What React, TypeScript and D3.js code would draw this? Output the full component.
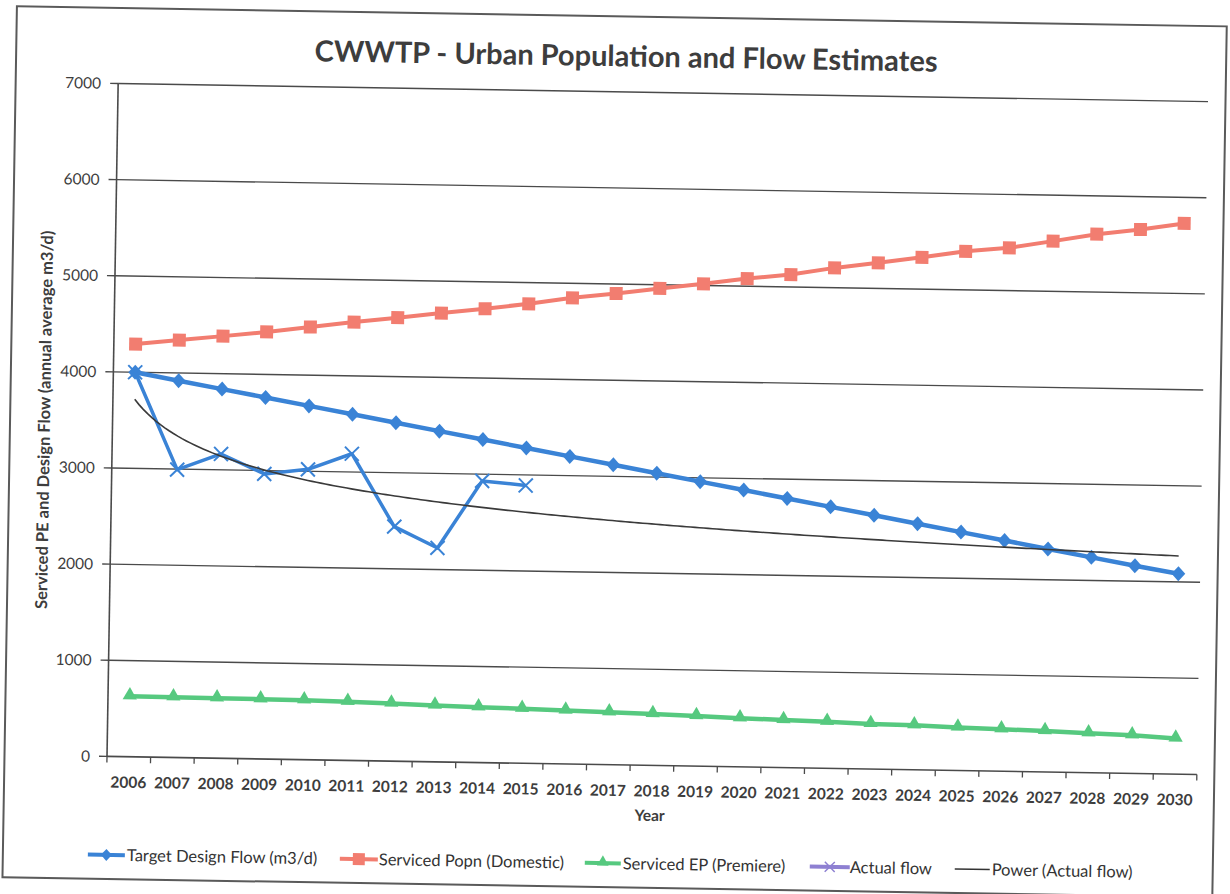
import React from 'react';
import * as d3 from 'd3';

// Years on the category axis
const YEARS = [
  '2006', '2007', '2008', '2009', '2010', '2011', '2012', '2013', '2014', '2015',
  '2016', '2017', '2018', '2019', '2020', '2021', '2022', '2023', '2024', '2025',
  '2026', '2027', '2028', '2029', '2030',
];

// Target design flow (m3/d)
const TARGET_FLOW = [
  4000, 3920, 3840, 3760, 3680, 3600, 3520, 3440, 3360, 3280,
  3200, 3120, 3040, 2960, 2880, 2800, 2720, 2640, 2560, 2480,
  2400, 2320, 2240, 2160, 2085,
];

// Serviced population (domestic)
const SERVICED_POPN = [
  4293, 4342, 4391, 4442, 4501, 4560, 4613, 4668, 4721, 4780,
  4850, 4902, 4962, 5018, 5080, 5129, 5206, 5266, 5331, 5401,
  5445, 5522, 5602, 5658, 5729,
];

// Serviced EP (premiere)
const SERVICED_EP = [
  630, 627, 624, 622, 618, 610, 600, 586, 576, 567,
  557, 545, 535, 521, 506, 496, 485, 470, 463, 448,
  437, 426, 410, 398, 370,
];

// Measured flow, 2006-2015
const ACTUAL_FLOW = [4000, 2995, 3165, 2965, 3020, 3190, 2440, 2225, 2930, 2890];

const Y_TICKS = [0, 1000, 2000, 3000, 4000, 5000, 6000, 7000];

const TITLE = 'CWWTP - Urban Population and Flow Estimates';
const Y_TITLE = 'Serviced PE and Design Flow (annual average m3/d)';
const X_TITLE = 'Year';
const LEGEND_LABELS = [
  'Target Design Flow (m3/d)',
  'Serviced Popn (Domestic)',
  'Serviced EP (Premiere)',
  'Actual flow',
  'Power (Actual flow)',
];

const W = 1230;
const H = 894;
const M = { left: 112.5, right: 1202.5, top: 92.5, bottom: 765.5 };
const FONT = "Lato, 'Open Sans', 'Liberation Sans', sans-serif";

const BLUE = '#3a83d6';
const RED = '#f27d70';
const GREEN = '#56c97f';
const PURPLE = '#8e80d2';
const GRID = '#4a4a4a';
const TEXT = '#3d3d3d';

// Power trendline y = a * x^b fitted by least squares on ln(x), ln(y)
function powerFit(values: number[]) {
  const lx = values.map((_, i) => Math.log(i + 1));
  const ly = values.map((v) => Math.log(v));
  const mx = d3.mean(lx) as number;
  const my = d3.mean(ly) as number;
  let sxy = 0;
  let sxx = 0;
  lx.forEach((x, i) => {
    sxy += (x - mx) * (ly[i] - my);
    sxx += (x - mx) * (x - mx);
  });
  const b = sxy / sxx;
  const a = Math.exp(my - b * mx);
  return (x: number) => a * Math.pow(x, b);
}

function diamondPath(r: number) {
  return `M0,${-r}L${r * 0.92},0L0,${r}L${-r * 0.92},0Z`;
}

function xMarkPath(r: number) {
  return `M${-r},${-r}L${r},${r}M${-r},${r}L${r},${-r}`;
}

export default function App() {
  const x = d3.scaleBand<string>().domain(YEARS).range([M.left, M.right]).paddingInner(0).paddingOuter(0);
  const y = d3.scaleLinear().domain([0, 7000]).range([M.bottom, M.top]);
  const cx = (i: number) => (x(YEARS[i]) as number) + x.bandwidth() / 2;

  const line = d3
    .line<number>()
    .x((_, i) => cx(i))
    .y((v) => y(v));

  const trend = powerFit(ACTUAL_FLOW);
  const trendX = d3.scaleLinear().domain([1, YEARS.length]).range([cx(0), cx(YEARS.length - 1)]);
  const trendPts = d3.range(1, YEARS.length + 0.001, 0.1).map((t) => [trendX(t), y(trend(t))] as [number, number]);
  const trendPath = d3.line()(trendPts) as string;

  const triangle = d3.symbol(d3.symbolTriangle, 88)() as string;
  const triangleSmall = d3.symbol(d3.symbolTriangle, 60)() as string;

  const boundaries = d3.range(YEARS.length + 1).map((i) => M.left + i * x.bandwidth());

  const legendY = 864;
  const legendItems = [
    { x0: 95, x1: 132, tx: 134, color: BLUE, marker: 'diamond' },
    { x0: 347, x1: 385, tx: 386, color: RED, marker: 'square' },
    { x0: 592, x1: 628, tx: 630, color: GREEN, marker: 'triangle' },
    { x0: 817, x1: 857, tx: 857, color: PURPLE, marker: 'x' },
    { x0: 962, x1: 997, tx: 999, color: '#333333', marker: 'none' },
  ];

  return (
    <svg
      width={W}
      height={H}
      viewBox={`0 0 ${W} ${H}`}
      style={{ position: 'absolute', left: 0, top: 0, display: 'block', background: '#ffffff' }}
    >
      <rect x={0} y={0} width={W} height={H} fill="#ffffff" />
      <g transform="rotate(0.95 657.5 429)">
        {/* chart frame */}
        <rect x={10} y={17} width={1210} height={871} fill="#ffffff" stroke="#5a5a5a" strokeWidth={2} />

        {/* title */}
        <text
          x={620}
          y={67}
          textAnchor="middle"
          fontFamily={FONT}
          fontWeight={700}
          fontSize={29}
          fill={TEXT}
        >
          {TITLE}
        </text>

        {/* horizontal gridlines */}
        {Y_TICKS.filter((t) => t > 0).map((t) => (
          <line key={`g${t}`} x1={M.left} x2={M.right} y1={y(t)} y2={y(t)} stroke={GRID} strokeWidth={1.4} />
        ))}

        {/* y axis */}
        <line x1={M.left} x2={M.left} y1={M.top} y2={M.bottom} stroke={GRID} strokeWidth={1.6} />
        {Y_TICKS.map((t) => (
          <g key={`yt${t}`}>
            <line x1={M.left - 8} x2={M.left} y1={y(t)} y2={y(t)} stroke={GRID} strokeWidth={1.4} />
            <text
              x={95.5}
              y={y(t)}
              dy="0.35em"
              textAnchor="end"
              fontFamily={FONT}
              fontSize={15.5}
              fill={TEXT}
            >
              {t}
            </text>
          </g>
        ))}

        {/* x axis */}
        <line x1={M.left} x2={M.right} y1={M.bottom} y2={M.bottom} stroke={GRID} strokeWidth={1.6} />
        {boundaries.map((bx, i) => (
          <line key={`xt${i}`} x1={bx} x2={bx} y1={M.bottom} y2={M.bottom + 6} stroke={GRID} strokeWidth={1.3} />
        ))}
        {YEARS.map((yr, i) => (
          <text
            key={`xl${yr}`}
            x={cx(i)}
            y={M.bottom + 31}
            textAnchor="middle"
            fontFamily={FONT}
            fontWeight={700}
            fontSize={15.5}
            fill={TEXT}
          >
            {yr}
          </text>
        ))}

        {/* axis titles */}
        <text
          x={656}
          y={821}
          textAnchor="middle"
          fontFamily={FONT}
          fontWeight={700}
          fontSize={15.5}
          fill={TEXT}
        >
          {X_TITLE}
        </text>
        <text
          transform="translate(50 430) rotate(-90)"
          textAnchor="middle"
          fontFamily={FONT}
          fontWeight={700}
          fontSize={16.5}
          fill={TEXT}
        >
          {Y_TITLE}
        </text>

        {/* Serviced EP */}
        <path d={line(SERVICED_EP) as string} fill="none" stroke={GREEN} strokeWidth={4.5} strokeLinejoin="round" />
        {SERVICED_EP.map((v, i) => (
          <path key={`ep${i}`} d={triangle} transform={`translate(${cx(i)},${y(v) - 1})`} fill={GREEN} />
        ))}

        {/* Serviced population */}
        <path d={line(SERVICED_POPN) as string} fill="none" stroke={RED} strokeWidth={4} strokeLinejoin="round" />
        {SERVICED_POPN.map((v, i) => (
          <rect key={`pp${i}`} x={cx(i) - 6.5} y={y(v) - 6.5} width={13} height={13} fill={RED} />
        ))}

        {/* Target design flow */}
        <path d={line(TARGET_FLOW) as string} fill="none" stroke={BLUE} strokeWidth={4.5} strokeLinejoin="round" />
        {TARGET_FLOW.map((v, i) => (
          <path key={`tf${i}`} d={diamondPath(7.5)} transform={`translate(${cx(i)},${y(v)})`} fill={BLUE} />
        ))}

        {/* Actual flow */}
        <path d={line(ACTUAL_FLOW) as string} fill="none" stroke={BLUE} strokeWidth={3.5} strokeLinejoin="round" />
        {ACTUAL_FLOW.map((v, i) => (
          <path
            key={`af${i}`}
            d={xMarkPath(7)}
            transform={`translate(${cx(i)},${y(v)})`}
            fill="none"
            stroke={BLUE}
            strokeWidth={2}
          />
        ))}

        {/* Power trendline of actual flow */}
        <path d={trendPath} fill="none" stroke="#3a3a3a" strokeWidth={1.6} />

        {/* legend */}
        {legendItems.map((it, i) => {
          const mx = (it.x0 + it.x1) / 2;
          return (
            <g key={`lg${i}`}>
              <line
                x1={it.x0}
                x2={it.x1}
                y1={legendY}
                y2={legendY}
                stroke={it.color}
                strokeWidth={it.marker === 'none' ? 1.6 : 4}
              />
              {it.marker === 'diamond' && (
                <path d={diamondPath(6)} transform={`translate(${mx},${legendY})`} fill={it.color} />
              )}
              {it.marker === 'square' && (
                <rect x={mx - 6} y={legendY - 6} width={12} height={12} fill={it.color} />
              )}
              {it.marker === 'triangle' && (
                <path d={triangleSmall} transform={`translate(${mx},${legendY - 1})`} fill={it.color} />
              )}
              {it.marker === 'x' && (
                <path
                  d={xMarkPath(5)}
                  transform={`translate(${mx},${legendY})`}
                  fill="none"
                  stroke={it.color}
                  strokeWidth={1.5}
                />
              )}
              <text
                x={it.tx}
                y={legendY}
                dy="0.35em"
                fontFamily={FONT}
                fontSize={16.5}
                fill="#333333"
              >
                {LEGEND_LABELS[i]}
              </text>
            </g>
          );
        })}
      </g>
    </svg>
  );
}
